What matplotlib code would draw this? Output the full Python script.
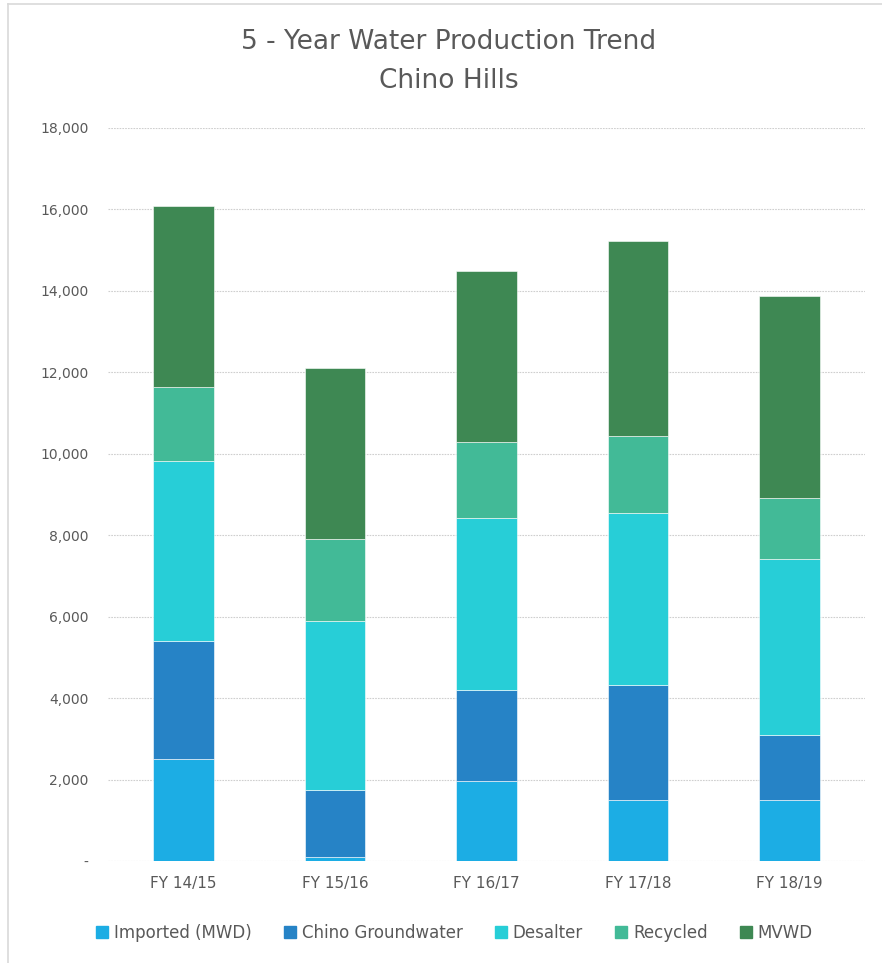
import matplotlib
matplotlib.use("Agg")
import matplotlib.pyplot as plt
from matplotlib.lines import Line2D
import numpy as np

plt.rcParams['font.family'] = ['DejaVu Sans']

years = ['FY 14/15', 'FY 15/16', 'FY 16/17', 'FY 17/18', 'FY 18/19']
series_names = ['Imported (MWD)', 'Chino Groundwater', 'Desalter', 'Recycled', 'MVWD']
imported = [2500, 90, 1960, 1490, 1490]
groundwater = [2900, 1650, 2230, 2830, 1610]
desalter = [4430, 4165, 4230, 4220, 4310]
recycled = [1820, 1995, 1860, 1900, 1510]
mvwd = [4430, 4200, 4220, 4775, 4945]
colors = ['#1CADE4', '#2683C6', '#27CED7', '#42BA97', '#3E8853']

txt = '#595959'

fig = plt.figure(figsize=(8.82, 9.63), dpi=100)
ax = fig.add_axes([0.1224, 0.1059, 0.8583, 0.7612])

x = np.arange(len(years))
bottom = np.zeros(len(years))
for name, vals, c in zip(series_names, [imported, groundwater, desalter, recycled, mvwd], colors):
    ax.bar(x, vals, 0.4, bottom=bottom, color=c, edgecolor='white', linewidth=0.4, label=name, zorder=3)
    bottom += np.array(vals)

ax.set_xlim(-0.5, 4.5)
ax.set_ylim(0, 18000)
ax.set_yticks(range(0, 18001, 2000))
ax.set_yticklabels(['-'] + ['{:,}'.format(v) for v in range(2000, 18001, 2000)])
ax.set_xticks(x)
ax.set_xticklabels(years)
ax.yaxis.grid(True, color='#cfcfcf', linewidth=0.8, linestyle=(0, (1.5, 1)), zorder=0)
ax.set_axisbelow(True)
for s in ax.spines.values():
    s.set_visible(False)
ax.tick_params(axis='x', length=0, labelsize=11, colors=txt, pad=11)
ax.tick_params(axis='y', length=0, labelsize=10, colors=txt, pad=14)

fig.text(0.509, 0.956, '5 - Year Water Production Trend', ha='center', va='center', fontsize=19, color=txt)
fig.text(0.509, 0.916, 'Chino Hills', ha='center', va='center', fontsize=19, color=txt)

handles = [Line2D([0], [0], marker='s', linestyle='', markersize=9, markerfacecolor=c, markeredgecolor=c) for c in colors]
fig.legend(handles, series_names, loc='center', bbox_to_anchor=(0.515, 1 - 933 / 963), ncol=5, frameon=False,
           fontsize=12, labelcolor=txt, handletextpad=0.3, columnspacing=1.9, handlelength=0.8)

# chart border (left and top visible)
fig.add_artist(Line2D([8 / 882, 8 / 882], [0, 1 - 4 / 963], color='#d9d9d9', linewidth=1.2))
fig.add_artist(Line2D([8 / 882, 1], [1 - 4 / 963, 1 - 4 / 963], color='#d9d9d9', linewidth=1.2))

fig.savefig('out.png', dpi=100)
